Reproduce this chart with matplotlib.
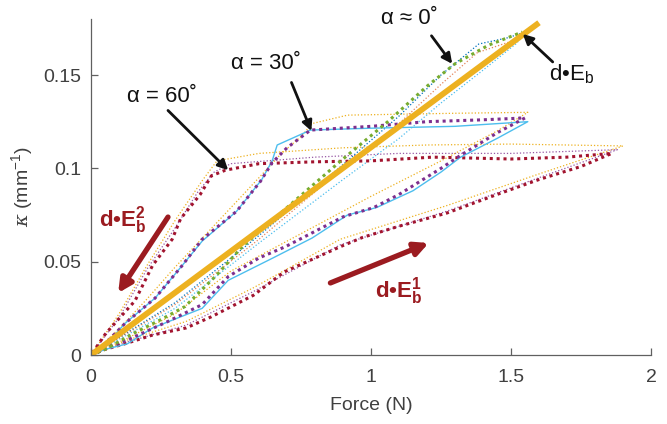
import matplotlib
matplotlib.use("Agg")
import matplotlib.pyplot as plt

plt.rcParams['font.family'] = ['Liberation Sans', 'DejaVu Sans']
plt.rcParams['mathtext.fontset'] = 'custom'
plt.rcParams['mathtext.rm'] = 'Liberation Sans'
plt.rcParams['mathtext.it'] = 'DejaVu Serif:italic'
plt.rcParams['mathtext.bf'] = 'Liberation Sans:bold'

# ---------------- data ----------------
# alpha = 60 deg, main trial (dark red)
F60_load = [0, 0.05, 0.13, 0.22, 0.34, 0.43, 0.58, 0.69, 0.89, 0.97, 1.1, 1.27, 1.45, 1.6, 1.75, 1.86]
K60_load = [0, 0.003, 0.0064, 0.0107, 0.0145, 0.0205, 0.032, 0.0445, 0.058, 0.063, 0.069, 0.076, 0.086, 0.094, 0.101, 0.108]
F60_unload = [1.86, 1.7, 1.5, 1.22, 1.0, 0.8, 0.6, 0.48, 0.43, 0.39, 0.32, 0.29, 0.22, 0.157, 0.097, 0.05, 0]
K60_unload = [0.108, 0.106, 0.105, 0.106, 0.104, 0.1035, 0.1025, 0.099, 0.096, 0.086, 0.073, 0.062, 0.048, 0.029, 0.019, 0.011, 0]
# alpha = 60 deg, other trials
F60y = [0, 0.13, 0.34, 0.58, 0.89, 1.27, 1.6, 1.9, 1.5, 1.2, 0.9, 0.6, 0.45, 0.4, 0.3, 0.2, 0.1, 0]
K60y = [0, 0.008, 0.018, 0.036, 0.062, 0.080, 0.097, 0.112, 0.113, 0.1125, 0.111, 0.108, 0.104, 0.094, 0.072, 0.048, 0.022, 0]
F60p = [0, 0.13, 0.34, 0.58, 0.89, 1.27, 1.6, 1.88, 1.5, 1.1, 0.8, 0.5, 0.44, 0.38, 0.3, 0.2, 0.1, 0]
K60p = [0, 0.007, 0.016, 0.034, 0.059, 0.077, 0.095, 0.110, 0.108, 0.108, 0.106, 0.1025, 0.098, 0.087, 0.068, 0.046, 0.020, 0]

# alpha = 30 deg, main trial (purple)
F30_load = [0, 0.05, 0.13, 0.275, 0.397, 0.49, 0.6, 0.694, 0.9, 1.01, 1.1, 1.25, 1.32, 1.45, 1.55]
K30_load = [0, 0.004, 0.008, 0.018, 0.027, 0.042, 0.052, 0.058, 0.074, 0.079, 0.086, 0.100, 0.107, 0.119, 0.127]
F30_unload = [1.55, 1.4, 1.2, 1.0, 0.784, 0.70, 0.647, 0.605, 0.52, 0.397, 0.326, 0.229, 0.122, 0.05, 0]
K30_unload = [0.127, 0.126, 0.125, 0.1225, 0.1205, 0.111, 0.103, 0.093, 0.077, 0.062, 0.048, 0.0305, 0.017, 0.006, 0]
# alpha = 30 deg, second trial (light blue, solid)
F30b_load = [0, 0.05, 0.13, 0.22, 0.397, 0.49, 0.65, 0.79, 0.916, 1.02, 1.15, 1.25, 1.32, 1.45, 1.56]
K30b_load = [0, 0.003, 0.006, 0.0145, 0.025, 0.040, 0.052, 0.0627, 0.075, 0.079, 0.088, 0.098, 0.106, 0.116, 0.125]
F30b_unload = [1.56, 1.3, 1.0, 0.784, 0.665, 0.647, 0.61, 0.52, 0.397, 0.326, 0.229, 0.122, 0.05, 0]
K30b_unload = [0.125, 0.1225, 0.1215, 0.1205, 0.1125, 0.104, 0.094, 0.077, 0.061, 0.048, 0.0305, 0.017, 0.005, 0]
# alpha = 30 deg, third trial (yellow)
F30y = [0, 0.13, 0.3, 0.5, 0.75, 1.0, 1.25, 1.45, 1.56, 1.3, 0.916, 0.79, 0.75, 0.68, 0.6, 0.5, 0.4, 0.3, 0.2, 0.1, 0]
K30y = [0, 0.009, 0.022, 0.045, 0.065, 0.085, 0.104, 0.120, 0.130, 0.1295, 0.1285, 0.124, 0.117, 0.108, 0.095, 0.079, 0.063, 0.047, 0.030, 0.014, 0]

# alpha ~ 0 deg, main trial (green)
F0 = [0, 0.05, 0.157, 0.25, 0.336, 0.45, 0.54, 0.7, 0.9, 1.06, 1.2, 1.3, 1.42, 1.54]
K0 = [0, 0.003, 0.012, 0.019, 0.026, 0.043, 0.058, 0.079, 0.105, 0.125, 0.144, 0.156, 0.166, 0.173]
# alpha ~ 0 deg, other trials
F0b = [0, 0.3, 0.6, 0.9, 1.1, 1.25, 1.385, 1.49, 1.55]
K0b = [0, 0.028, 0.064, 0.102, 0.128, 0.150, 0.1666, 0.170, 0.173]
F0o = [0, 0.3, 0.6, 0.9, 1.1, 1.25, 1.38, 1.5, 1.55]
K0o = [0, 0.027, 0.062, 0.100, 0.124, 0.145, 0.162, 0.168, 0.173]
F0c = [0, 0.3, 0.6, 0.9, 1.1, 1.25, 1.395, 1.517, 1.55]
K0c = [0, 0.025, 0.060, 0.094, 0.116, 0.135, 0.152, 0.1666, 0.172]

# d*E_b line
F_eb = [0, 1.6]
K_eb = [0, 0.178]

# axis ticks
xticks = [0, 0.5, 1, 1.5, 2]
xticklabels = ['0', '0.5', '1', '1.5', '2']
yticks = [0, 0.05, 0.1, 0.15]
yticklabels = ['0', '0.05', '0.1', '0.15']

# ---------------- colours ----------------
C_BLUE = '#0072BD'
C_ORANGE = '#D95319'
C_YELLOW = '#EDB120'
C_PURPLE = '#7E2F8E'
C_GREEN = '#77AC30'
C_LBLUE = '#4DBEEE'
C_RED = '#A2142F'
C_ARROW_RED = '#9B1B20'
C_TXT = '#404040'

fig = plt.figure(figsize=(6.67, 4.24), dpi=100)
ax = fig.add_axes([91/667, 69/424, 560/667, 336/424])

thin = dict(lw=0.9, linestyle=(0, (1, 1.6)))
thick = dict(lw=2.2, linestyle=(0, (1, 1.25)))

# thin trials
ax.plot(F60y, K60y, color=C_YELLOW, **thin)
ax.plot(F60p, K60p, color=C_PURPLE, alpha=0.8, **thin)
ax.plot(F30y, K30y, color=C_YELLOW, **thin)
ax.plot(F0b, K0b, color=C_BLUE, **thin)
ax.plot(F0o, K0o, color=C_ORANGE, alpha=0.7, **thin)
ax.plot(F0c, K0c, color=C_LBLUE, **thin)

# main trials
ax.plot(F60_load + F60_unload, K60_load + K60_unload, color=C_RED, **thick)
ax.plot(F30b_load + F30b_unload, K30b_load + K30b_unload, color=C_LBLUE, lw=1.0, linestyle='-')
ax.plot(F30_load + F30_unload, K30_load + K30_unload, color=C_PURPLE, **thick)
ax.plot(F0, K0, color=C_GREEN, **thick)

# d*E_b line
ax.plot(F_eb, K_eb, color=C_YELLOW, lw=4.2, solid_capstyle='butt')

ax.set_xlim(0, 2)
ax.set_ylim(0, 0.18)
ax.set_xticks(xticks)
ax.set_xticklabels(xticklabels)
ax.set_yticks(yticks)
ax.set_yticklabels(yticklabels)

for s in ['top', 'right']:
    ax.spines[s].set_visible(False)
for s in ['left', 'bottom']:
    ax.spines[s].set_color('#606060')
    ax.spines[s].set_linewidth(0.9)
ax.tick_params(direction='in', length=5, width=0.9, color='#606060',
               labelsize=14, labelcolor=C_TXT)
ax.tick_params(axis='x', pad=10)
ax.tick_params(axis='y', pad=7)

ax.set_xlabel('Force (N)', fontsize=14, color=C_TXT, labelpad=8)
ax.set_ylabel(r'$\kappa$ (mm$^{-1}$)', fontsize=14, color=C_TXT, labelpad=6)

# annotations
ann_fs = 16
ax.text(0.254, 0.1387, 'α = 60˚', fontsize=ann_fs, ha='center', va='center', color='#111111')
ax.text(0.626, 0.1564, 'α = 30˚', fontsize=ann_fs, ha='center', va='center', color='#111111')
ax.text(1.138, 0.1805, 'α ≈ 0˚', fontsize=ann_fs, ha='center', va='center', color='#111111')
ax.text(1.717, 0.1505, r'd•E$_\mathregular{b}$', fontsize=ann_fs, ha='center', va='center', color='#111111')

blk = dict(arrowstyle='-|>,head_length=0.6,head_width=0.3', color='#111111', lw=2.0,
           shrinkA=0, shrinkB=0)
ax.annotate('', xy=(0.49, 0.099), xytext=(0.275, 0.131), arrowprops=blk)
ax.annotate('', xy=(0.787, 0.120), xytext=(0.716, 0.146), arrowprops=blk)
ax.annotate('', xy=(1.29, 0.156), xytext=(1.216, 0.171), arrowprops=blk)
ax.annotate('', xy=(1.542, 0.172), xytext=(1.649, 0.157), arrowprops=blk)

red = dict(arrowstyle='-|>,head_length=0.8,head_width=0.4', color=C_ARROW_RED, lw=3.8,
           shrinkA=0, shrinkB=0)
ax.annotate('', xy=(0.097, 0.0332), xytext=(0.275, 0.0739), arrowprops=red)
ax.annotate('', xy=(1.206, 0.060), xytext=(0.855, 0.0386), arrowprops=red)

ax.text(0.114, 0.0725, r'd•E$_{\mathbf{b}}^{\mathbf{2}}$', fontsize=ann_fs, fontweight='bold',
        ha='center', va='center', color=C_ARROW_RED)
ax.text(1.098, 0.0345, r'd•E$_{\mathbf{b}}^{\mathbf{1}}$', fontsize=ann_fs, fontweight='bold',
        ha='center', va='center', color=C_ARROW_RED)

fig.savefig('out.png', dpi=100)
